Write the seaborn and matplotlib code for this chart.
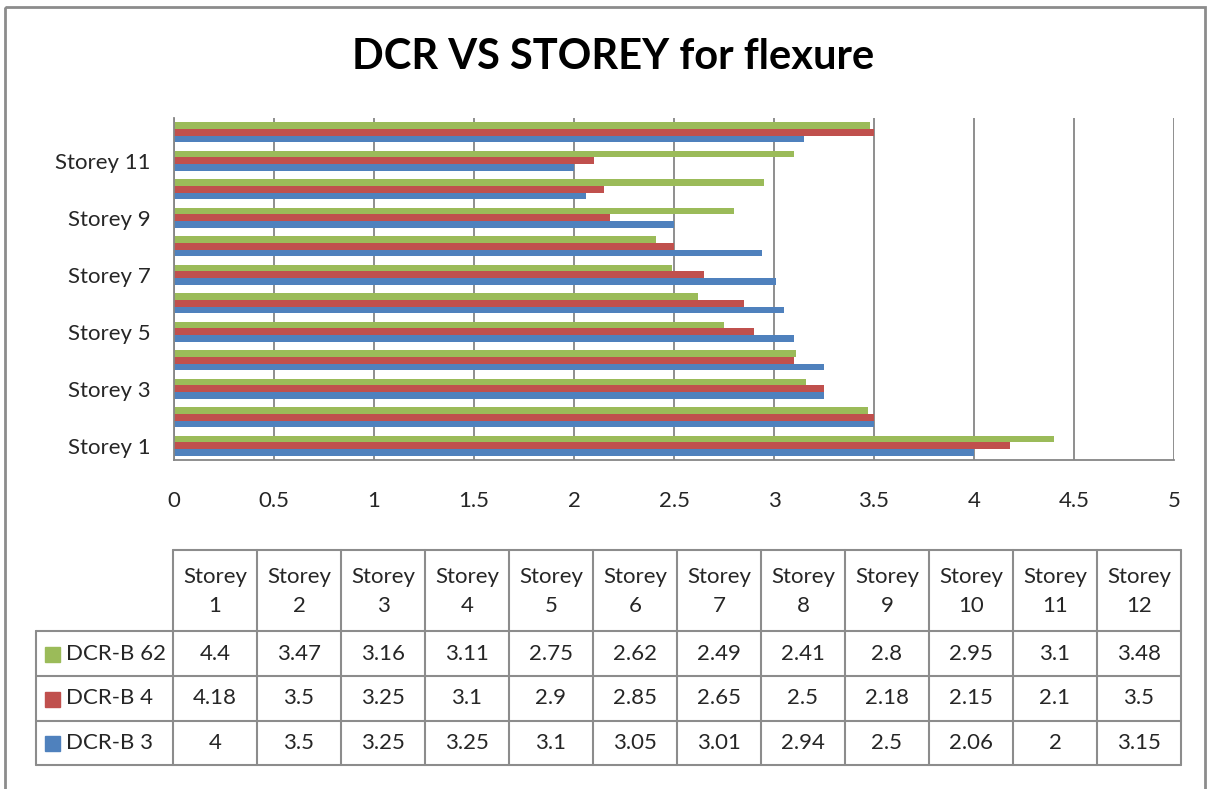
import matplotlib.pyplot as plt
import seaborn as sns
import pandas as pd
from matplotlib.patches import Rectangle

storeys = [f"Storey {i}" for i in range(1, 13)]
series_names = ["DCR-B 62", "DCR-B 4", "DCR-B 3"]
dcr_b62 = [4.4, 3.47, 3.16, 3.11, 2.75, 2.62, 2.49, 2.41, 2.8, 2.95, 3.1, 3.48]
dcr_b4 = [4.18, 3.5, 3.25, 3.1, 2.9, 2.85, 2.65, 2.5, 2.18, 2.15, 2.1, 3.5]
dcr_b3 = [4, 3.5, 3.25, 3.25, 3.1, 3.05, 3.01, 2.94, 2.5, 2.06, 2, 3.15]
colors = {"DCR-B 62": "#9BBB59", "DCR-B 4": "#C0504D", "DCR-B 3": "#4F81BD"}

values = {"DCR-B 62": dcr_b62, "DCR-B 4": dcr_b4, "DCR-B 3": dcr_b3}
df = pd.DataFrame([
    {"storey": s, "series": name, "dcr": v}
    for name in series_names for s, v in zip(storeys, values[name])
])

sns.set_style("white")
plt.rcParams["font.family"] = ["Lato", "DejaVu Sans"]
fs = 16

W, H = 1209, 789
fig = plt.figure(figsize=(W / 100, H / 100), dpi=100)

# overlay in pixel coords for frame, title and data table
ov = fig.add_axes([0, 0, 1, 1])
ov.set_xlim(0, W)
ov.set_ylim(H, 0)
ov.axis("off")
ov.add_patch(Rectangle((5, 7), 1200, 800, fill=False, edgecolor="#8c8c8c", lw=2))
ov.text(613, 57, "DCR VS STOREY for flexure", ha="center", va="center",
        fontsize=30, fontweight="bold", color="black")

ax = fig.add_axes([174 / W, 1 - 460 / H, 1000 / W, 342 / H])
sns.barplot(data=df, y="storey", x="dcr", hue="series", order=storeys[::-1],
            hue_order=series_names, palette=colors, orient="h", width=0.7,
            saturation=1, linewidth=0, legend=False, ax=ax)
ax.set_xlim(0, 5)
ax.set_ylim(11.5, -0.5)
ticks = [i * 0.5 for i in range(11)]
ax.set_xticks(ticks)
ax.set_xticklabels([f"{t:g}" for t in ticks], fontsize=fs)
ax.tick_params(axis="x", pad=22, length=0)
ax.set_yticks([11 - i for i in range(0, 12, 2)])
ax.set_yticklabels([storeys[i] for i in range(0, 12, 2)], fontsize=fs)
ax.tick_params(axis="y", pad=17, length=0)
ax.set_xlabel("")
ax.set_ylabel("")
ax.xaxis.grid(True, color="#868686", lw=1.3)
ax.set_axisbelow(True)
for sp in ["top", "right"]:
    ax.spines[sp].set_visible(False)
for sp in ["left", "bottom"]:
    ax.spines[sp].set_color("#868686")
    ax.spines[sp].set_linewidth(1.3)

# data table
x0, cw, lx = 173, 84, 36
rows_y = [550, 631, 676, 721, 765]
lc = "#8c8c8c"
x_end = x0 + cw * len(storeys)
ov.plot([x0, x_end], [rows_y[0]] * 2, color=lc, lw=1.5)
for y in rows_y[1:]:
    ov.plot([lx, x_end], [y, y], color=lc, lw=1.5)
for i in range(len(storeys) + 1):
    ov.plot([x0 + i * cw] * 2, [rows_y[0], rows_y[-1]], color=lc, lw=1.5)
ov.plot([lx, lx], [rows_y[1], rows_y[-1]], color=lc, lw=1.5)
for i, s in enumerate(storeys):
    cx = x0 + (i + 0.5) * cw
    ov.text(cx, (rows_y[0] + rows_y[1]) / 2 + 1, s.replace(" ", "\n"), ha="center",
            va="center", fontsize=fs, linespacing=1.6)
for r, name in enumerate(series_names):
    cy = (rows_y[r + 1] + rows_y[r + 2]) / 2
    ov.add_patch(Rectangle((45, cy - 7), 15, 15, color=colors[name]))
    ov.text(66, cy, name, ha="left", va="center", fontsize=fs)
    for i, v in enumerate(values[name]):
        ov.text(x0 + (i + 0.5) * cw, cy, f"{v:g}", ha="center", va="center", fontsize=fs)

fig.savefig("out.png", dpi=100)
